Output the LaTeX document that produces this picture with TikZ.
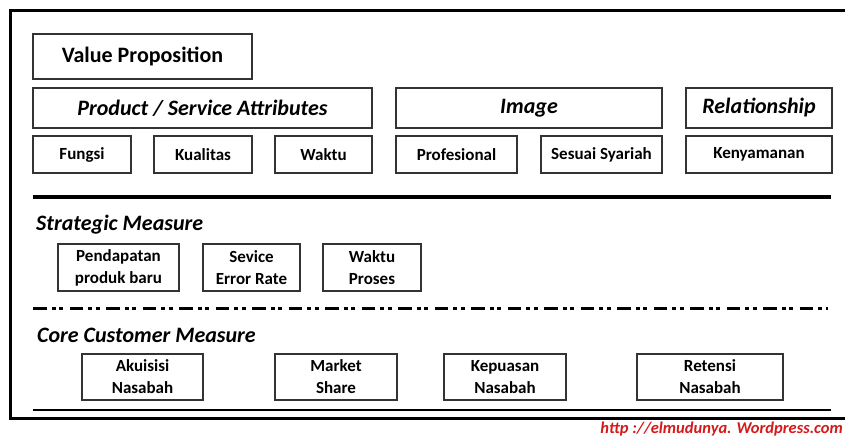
\documentclass[tikz,border=0pt]{standalone}
\usepackage{fontspec}
\setmainfont{Carlito}
\usetikzlibrary{positioning}
\definecolor{merahurl}{RGB}{212,26,26}
\tikzset{
  kotak/.style={draw=black!80, line width=1.3pt, inner sep=0pt, align=center,
    font=\bfseries\fontsize{17}{22}\selectfont},
  judul/.style={kotak, font=\bfseries\itshape\fontsize{22}{24}\selectfont},
  bagian/.style={inner sep=0pt, anchor=base west,
    font=\bfseries\itshape\fontsize{22}{24}\selectfont}
}
\begin{document}
\begin{tikzpicture}[x=1pt,y=-1pt]
        \useasboundingbox (0,0) rectangle (845,438);
        \clip (0,0) rectangle (845,438);
          % bingkai luar
          \draw [black, line width=3pt] (860,11) -- (10,11) -- (10,418) -- (860,418);
		% value proposition
		\node[kotak, font=\bfseries\fontsize{22}{24}\selectfont, minimum width=219pt, minimum height=45pt] (valprop) at (142.5,56.5) {Value Proposition};
		\node[judul, minimum width=339pt, minimum height=40pt] (produk) at (202.5,108) {Product / Service Attributes};
		\node[judul, minimum width=266pt, minimum height=40pt] (image) at (529,108) {Image};
		\node[judul, minimum width=146pt, minimum height=40pt] (relasi) at (759,108) {Relationship};
		\node[kotak, minimum width=98pt, minimum height=37pt] (fungsi) at (82,154.5) {Fungsi};
		\node[kotak, minimum width=98pt, minimum height=37pt] (kualitas) at (203,154.5) {Kualitas};
		\node[kotak, minimum width=97pt, minimum height=37pt] (waktu) at (323.5,154.5) {Waktu};
		\node[kotak, minimum width=121pt, minimum height=37pt] (profesional) at (456.5,154.5) {Profesional};
		\node[kotak, minimum width=121pt, minimum height=37pt] (syariah) at (601.5,154.5) {Sesuai Syariah};
		\node[kotak, minimum width=146pt, minimum height=37pt] (nyaman) at (759,154.5) {Kenyamanan};
		\draw [black, line width=4pt] (33,197) -- (831,197);
		% strategic measure
		\node[bagian] (strategic) at (36,231) {Strategic Measure};
		\node[kotak, minimum width=121pt, minimum height=47pt] (pendapatan) at (118.5,267.5) {Pendapatan\\produk baru};
		\node[kotak, minimum width=97pt, minimum height=47pt] (error) at (251.5,267.5) {Sevice\\Error Rate};
		\node[kotak, minimum width=98pt, minimum height=47pt] (proses) at (372,267.5) {Waktu\\Proses};
		\draw [black, line width=3pt, dash pattern=on 13.5pt off 5pt on 4pt off 3.5pt on 4pt off 6.5pt] (33,308) -- (828,308);
		% core customer measure
		\node[bagian] (core) at (37,342) {Core Customer Measure};
		\node[kotak, minimum width=121pt, minimum height=46pt] (akuisisi) at (142.5,377) {Akuisisi\\Nasabah};
		\node[kotak, minimum width=122pt, minimum height=46pt] (market) at (336,377) {Market\\Share};
		\node[kotak, minimum width=122pt, minimum height=46pt] (kepuasan) at (505,377) {Kepuasan\\Nasabah};
		\node[kotak, minimum width=146pt, minimum height=46pt] (retensi) at (710,377) {Retensi\\Nasabah};
		\draw [black, line width=2.5pt] (33,410) -- (831,410);
		\node[inner sep=0pt, anchor=base east, text=merahurl, font=\bfseries\itshape\fontsize{16.5}{18}\selectfont] (url) at (843,433) {http ://elmudunya. Wordpress.com};
	\end{tikzpicture}
\end{document}
